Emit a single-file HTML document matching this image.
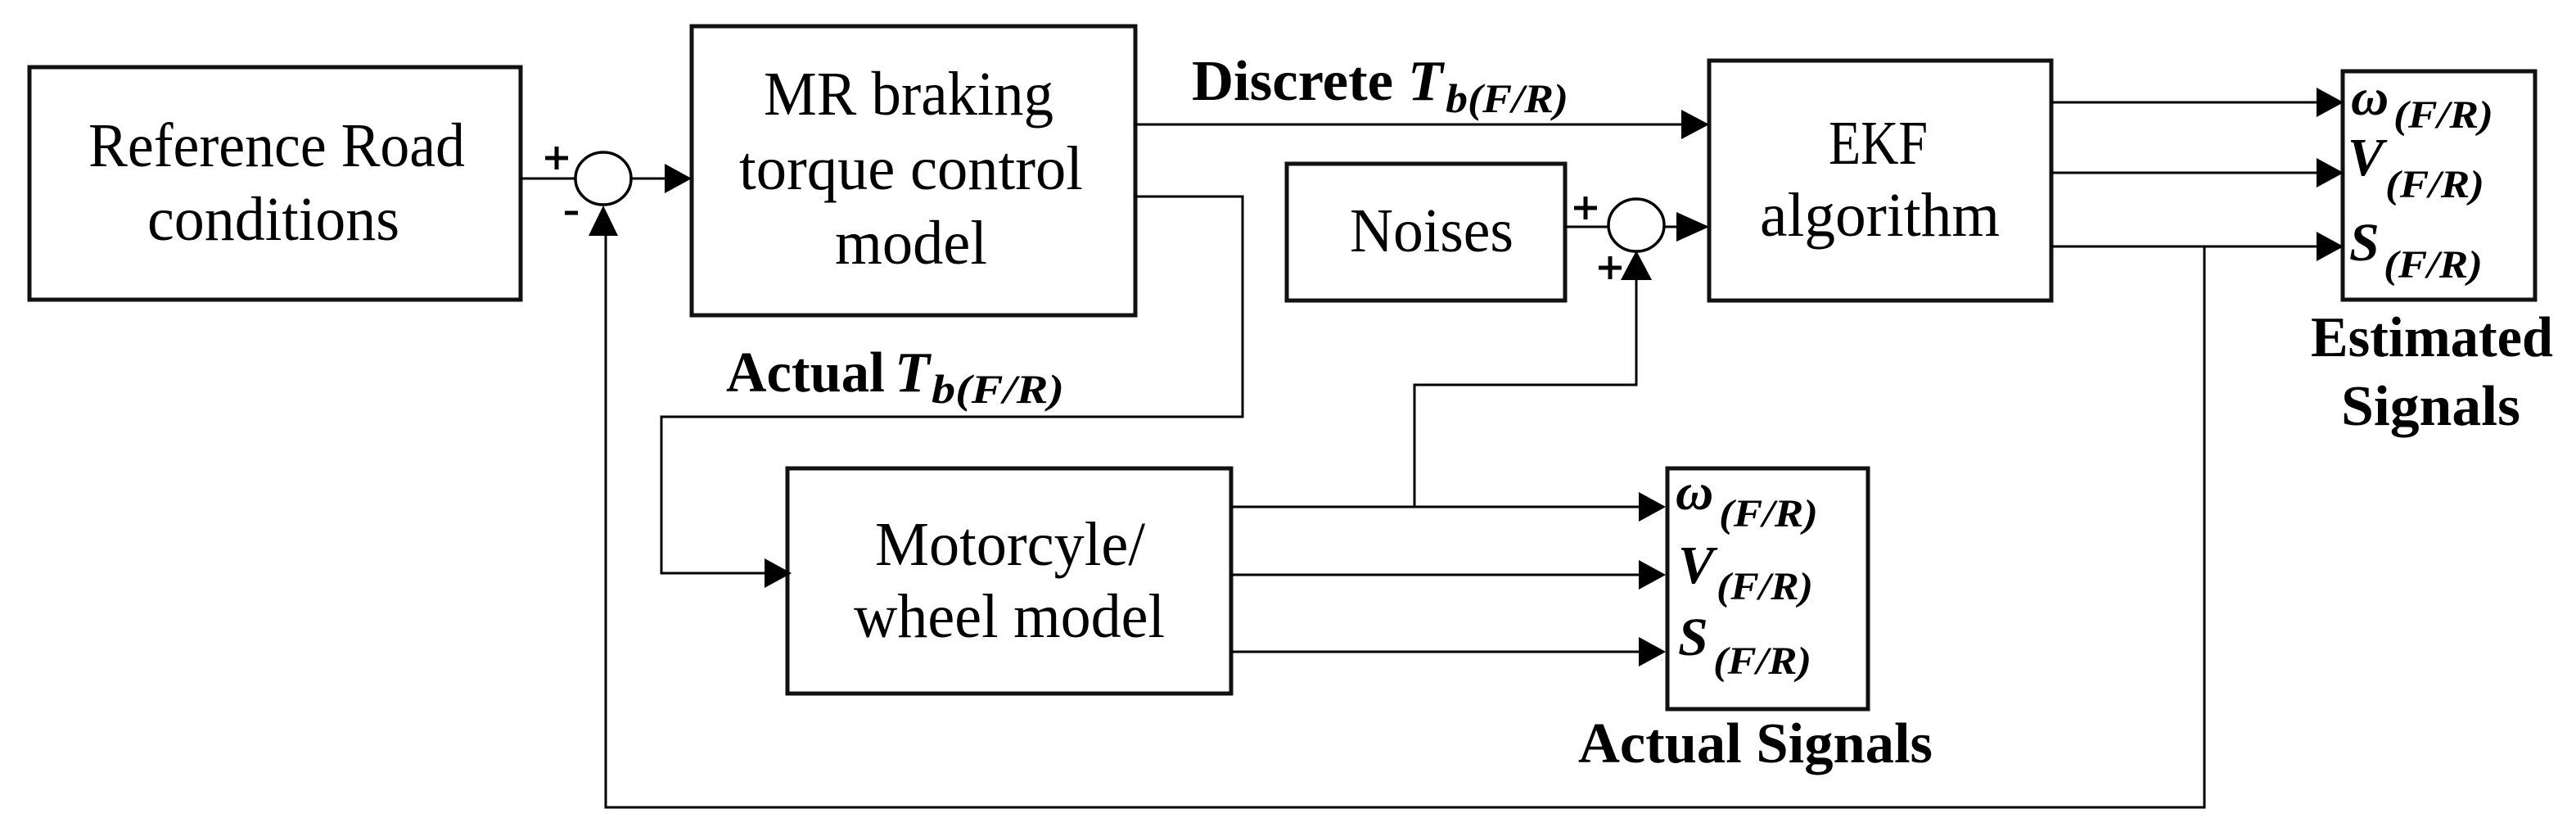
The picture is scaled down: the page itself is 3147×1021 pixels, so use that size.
<!DOCTYPE html>
<html><head><meta charset="utf-8"><style>
html,body{margin:0;padding:0;background:#fff;}
svg{display:block;}
text{font-family:"Liberation Serif",serif;fill:#000;}
.b{font-weight:bold;}
.i{font-style:italic;}
</style></head><body>
<svg width="3147" height="1021" viewBox="0 0 3147 1021" xmlns="http://www.w3.org/2000/svg">
<g fill="none" stroke="#111" stroke-width="5">
<rect x="36" y="82" width="600" height="284"/>
<rect x="845" y="32" width="542" height="353"/>
<rect x="1572" y="200" width="340" height="167"/>
<rect x="2088" y="74" width="418" height="293"/>
<rect x="2862" y="87" width="235" height="279"/>
<rect x="962" y="572" width="542" height="275"/>
<rect x="2037" y="572" width="245" height="294"/>
</g>
<g fill="none" stroke="#000" stroke-width="3.5">
<ellipse cx="737" cy="218" rx="34" ry="32"/>
<ellipse cx="1999" cy="275" rx="34" ry="32"/>
</g>
<g fill="none" stroke="#000" stroke-width="3">
<path d="M636 218 H703"/>
<path d="M771 218 H815"/>
<path d="M1387 152 H2060"/>
<path d="M1387 240 H1518 V509 H808 V700 H935"/>
<path d="M1912 277 H1965"/>
<path d="M2033 277 H2050"/>
<path d="M1504 619 H2005"/>
<path d="M1504 702 H2005"/>
<path d="M1504 796 H2005"/>
<path d="M1728 619 V470 H1999 V340"/>
<path d="M2506 125 H2835"/>
<path d="M2506 211 H2835"/>
<path d="M2506 301 H2835"/>
<path d="M2693 301 V986 H740 V285"/>
</g>
<g fill="#000">
<polygon points="845,218 812,200 812,236"/>
<polygon points="737,251 719,288 755,288"/>
<polygon points="2088,152 2054,134 2054,170"/>
<polygon points="2088,277 2048,259 2048,295"/>
<polygon points="1999,306 1980,342 2018,342"/>
<polygon points="967,700 934,682 934,718"/>
<polygon points="2863,125 2830,107 2830,143"/>
<polygon points="2863,211 2830,193 2830,229"/>
<polygon points="2863,301 2830,283 2830,319"/>
<polygon points="2035,619 2002,601 2002,637"/>
<polygon points="2035,702 2002,684 2002,720"/>
<polygon points="2035,796 2002,778 2002,814"/>
</g>
<g stroke="#000" stroke-width="5" fill="none">
<path d="M666 193 H694 M680 179 V207"/>
<path d="M690 260 H706"/>
<path d="M1923 254 H1951 M1937 240 V268"/>
<path d="M1953 327 H1981 M1967 313 V341"/>
</g>
<g font-size="76">
<text x="108" y="203" textLength="460" lengthAdjust="spacingAndGlyphs">Reference Road</text>
<text x="180" y="293" textLength="308" lengthAdjust="spacingAndGlyphs">conditions</text>
<text x="933" y="140" textLength="354" lengthAdjust="spacingAndGlyphs">MR braking</text>
<text x="903" y="231" textLength="420" lengthAdjust="spacingAndGlyphs">torque control</text>
<text x="1020" y="322" textLength="186" lengthAdjust="spacingAndGlyphs">model</text>
<text x="1649" y="307" textLength="200" lengthAdjust="spacingAndGlyphs">Noises</text>
<text x="2234" y="200" textLength="121" lengthAdjust="spacingAndGlyphs">EKF</text>
<text x="2150" y="288" textLength="293" lengthAdjust="spacingAndGlyphs">algorithm</text>
<text x="1069" y="690" textLength="330" lengthAdjust="spacingAndGlyphs">Motorcyle/</text>
<text x="1043" y="778" textLength="380" lengthAdjust="spacingAndGlyphs">wheel model</text>
</g>
<g class="b" font-size="70">
<text x="1456" y="122" textLength="246" lengthAdjust="spacingAndGlyphs">Discrete</text>
<text x="1720" y="122" class="i">T</text>
<text x="1766" y="137" class="i" font-size="50" textLength="150" lengthAdjust="spacingAndGlyphs">b(F/R)</text>
<text x="887" y="478" textLength="194" lengthAdjust="spacingAndGlyphs">Actual</text>
<text x="1093" y="478" class="i">T</text>
<text x="1138" y="492" class="i" font-size="50" textLength="162" lengthAdjust="spacingAndGlyphs">b(F/R)</text>
<text x="2823" y="435" textLength="296" lengthAdjust="spacingAndGlyphs">Estimated</text>
<text x="2860" y="519" textLength="219" lengthAdjust="spacingAndGlyphs">Signals</text>
<text x="1928" y="931" textLength="433" lengthAdjust="spacingAndGlyphs">Actual Signals</text>
</g>
<g class="b i">
<text x="2872" y="140" font-size="64">ω</text>
<text x="2924" y="156" font-size="48" textLength="122" lengthAdjust="spacingAndGlyphs">(F/R)</text>
<text x="2868" y="214" font-size="66">V</text>
<text x="2914" y="241" font-size="48" textLength="121" lengthAdjust="spacingAndGlyphs">(F/R)</text>
<text x="2870" y="318" font-size="66">S</text>
<text x="2912" y="339" font-size="48" textLength="121" lengthAdjust="spacingAndGlyphs">(F/R)</text>
<text x="2047" y="622" font-size="64">ω</text>
<text x="2100" y="643" font-size="48" textLength="121" lengthAdjust="spacingAndGlyphs">(F/R)</text>
<text x="2050" y="712" font-size="66">V</text>
<text x="2097" y="732" font-size="48" textLength="118" lengthAdjust="spacingAndGlyphs">(F/R)</text>
<text x="2050" y="800" font-size="66">S</text>
<text x="2093" y="823" font-size="48" textLength="120" lengthAdjust="spacingAndGlyphs">(F/R)</text>
</g>
</svg>
</body></html>
